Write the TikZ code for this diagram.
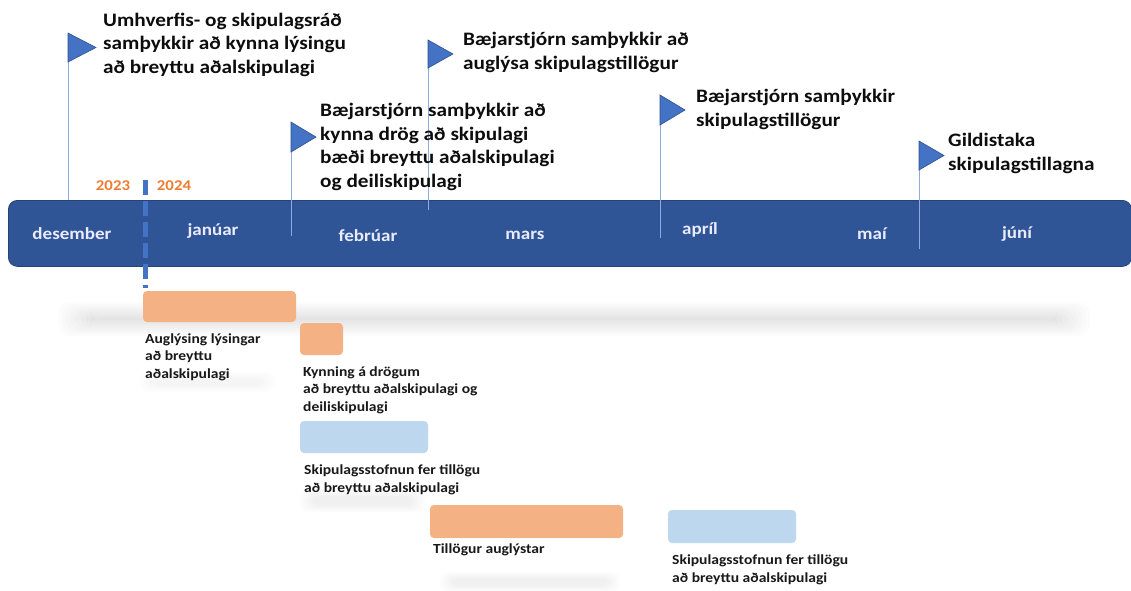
\documentclass[tikz,border=0pt]{standalone}
\usepackage{fontspec}
\setmainfont{Carlito}[FakeStretch=1.12]
\usetikzlibrary{calc}
\definecolor{bannerblue}{HTML}{2F5597}
\definecolor{flagblue}{HTML}{4472C4}
\definecolor{flagedge}{HTML}{2F528F}
\definecolor{polecol}{HTML}{8FAADC}
\definecolor{yearorange}{HTML}{ED7D31}
\definecolor{barorange}{HTML}{F4B183}
\definecolor{barblue}{HTML}{BDD7EE}
\tikzset{
  x=1pt, y=-1pt,
  headtxt/.style={anchor=base west, inner sep=0pt, align=left, font=\fontsize{19}{23.5}\selectfont\bfseries, text=black!95},
  lbltxt/.style={anchor=base west, inner sep=0pt, align=left, font=\fontsize{13.9}{17.5}\selectfont\bfseries, text=black!90},
  monthtxt/.style={inner sep=0pt, font=\fontsize{17}{20}\selectfont\bfseries, text=white!92!blue},
  yeartxt/.style={inner sep=0pt, font=\fontsize{15}{18}\selectfont\bfseries, text=yearorange},
  pole/.style={draw=polecol, line width=1pt},
  flagtri/.style={fill=flagblue, draw=flagedge, line width=0.6pt, line join=miter},
  barbox/.style={rounded corners=4pt, draw=none},
}
\begin{document}
\begin{tikzpicture}
\useasboundingbox[fill=white] (0,0) rectangle (1131,590);

% soft shadow band
\foreach \i in {0,...,8}{
  \fill[black, opacity=0.011, rounded corners=12pt] (58+4*\i,302+2*\i) rectangle (1090-4*\i,336-2*\i);
}
\foreach \i in {0,...,4}{
  \fill[black, opacity=0.008, rounded corners=8pt] (140+3*\i,372+1.5*\i) rectangle (275-3*\i,392-1.5*\i);
  \fill[black, opacity=0.01, rounded corners=8pt] (300+3*\i,490+1.5*\i) rectangle (425-3*\i,512-1.5*\i);
  \fill[black, opacity=0.01, rounded corners=8pt] (440+3*\i,572+1.5*\i) rectangle (620-3*\i,592-1.5*\i);
}

% banner
\node[draw=bannerblue!80!black, line width=0.8pt, fill=bannerblue, rounded corners=9pt, minimum width=1123pt, minimum height=66pt, inner sep=0pt, anchor=north west] (banner) at (8,200) {};

% year divider
\coordinate (ytop) at (145,180);
\coordinate (ybot) at (145,288);
\draw[flagblue, line width=5pt, dash pattern=on 15pt off 6pt] (ytop) -- (ybot);
\node[yeartxt] (y2023) at (113,186) {2023};
\node[yeartxt] (y2024) at (174,186) {2024};

% months
\node[monthtxt] (m12) at (72,234) {desember};
\node[monthtxt] (m1) at (213,231) {janúar};
\node[monthtxt] (m2) at (368,236) {febrúar};
\node[monthtxt] (m3) at (525,235) {mars};
\node[monthtxt] (m4) at (700,230) {apríl};
\node[monthtxt] (m5) at (872,234) {maí};
\node[monthtxt] (m6) at (1017,234) {júní};

% flags
\coordinate (p1b) at (68,200);
\coordinate (p2b) at (291,236);
\coordinate (p3b) at (428,210);
\coordinate (p4b) at (660,238);
\coordinate (p5b) at (919,249);
\draw[pole] (68,33) -- (p1b);
\draw[pole] (291,122) -- (p2b);
\draw[pole] (428,40) -- (p3b);
\draw[pole] (660,95) -- (p4b);
\draw[pole] (919,141) -- (p5b);
\draw[flagtri] (68,33) -- (96,47.5) -- (68,62) -- cycle;
\draw[flagtri] (291,122) -- (316,137) -- (291,152) -- cycle;
\draw[flagtri] (428,40) -- (453,54) -- (428,68) -- cycle;
\draw[flagtri] (660,95) -- (685,110) -- (660,125) -- cycle;
\draw[flagtri] (919,141) -- (944,155.5) -- (919,170) -- cycle;

% headings (anchor = baseline of last line)
\node[headtxt] (h1) at (103,73) {Umhverfis- og skipulagsráð\\samþykkir að kynna lýsingu\\að breyttu aðalskipulagi};
\node[headtxt] (h2) at (320,187) {Bæjarstjórn samþykkir að\\kynna drög að skipulagi\\bæði breyttu aðalskipulagi\\og deiliskipulagi};
\node[headtxt] (h3) at (463,69) {Bæjarstjórn samþykkir að\\auglýsa skipulagstillögur};
\node[headtxt] (h4) at (696,126) {Bæjarstjórn samþykkir\\skipulagstillögur};
\node[headtxt] (h5) at (948,170) {Gildistaka\\skipulagstillagna};

% bars
\fill[barorange, barbox] (143,291) rectangle (296,322);
\fill[barorange, barbox] (300,323) rectangle (343,355);
\fill[barblue, barbox] (300,421) rectangle (428,453);
\fill[barorange, barbox] (430,505) rectangle (623,538);
\fill[barblue, barbox] (668,510) rectangle (796,543);

% labels (anchor = baseline of last line)
\node[lbltxt] (l1) at (145,378) {Auglýsing lýsingar\\að breyttu\\aðalskipulagi};
\node[lbltxt] (l2) at (303,411) {Kynning á drögum\\að breyttu aðalskipulagi og\\deiliskipulagi};
\node[lbltxt] (l3) at (304,492) {Skipulagsstofnun fer tillögu\\að breyttu aðalskipulagi};
\node[lbltxt] (l4) at (433,553) {Tillögur auglýstar};
\node[lbltxt] (l5) at (672,582) {Skipulagsstofnun fer tillögu\\að breyttu aðalskipulagi};
\end{tikzpicture}
\end{document}
